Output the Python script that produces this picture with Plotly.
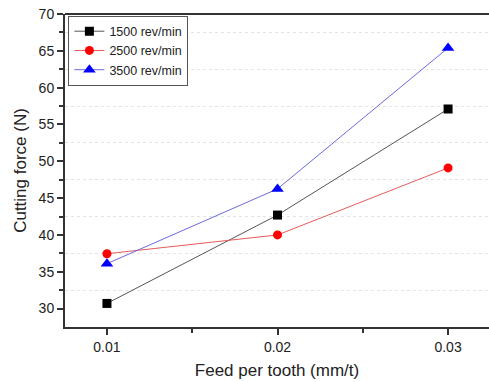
import plotly.graph_objects as go

feed = [0.01, 0.02, 0.03]
f1500 = [30.7, 42.7, 57.1]
f2500 = [37.45, 40.0, 49.1]
f3500 = [36.1, 46.25, 65.4]
names = ["1500 rev/min", "2500 rev/min", "3500 rev/min"]
line_colors = ["#555555", "#e85a5a", "#6a6ae0"]
marker_colors = ["#000000", "#ff0000", "#0000ff"]
symbols = ["square", "circle", "triangle-up"]

fig = go.Figure()
for ys, n, lc, mc, s in zip([f1500, f2500, f3500], names, line_colors, marker_colors, symbols):
    fig.add_trace(go.Scatter(x=feed, y=ys, name=n, mode="lines+markers",
                             line=dict(color=lc, width=1),
                             marker=dict(symbol=s, color=mc, size=9 if s != "triangle-up" else 11)))

# top frame line
fig.add_shape(type="line", xref="paper", yref="paper", x0=0, x1=1.02, y0=1, y1=1,
              line=dict(color="#333", width=2), layer="above")

fig.update_layout(
    width=489, height=382,
    margin=dict(l=65, r=0, t=14, b=55),
    template="none",
    plot_bgcolor="white", paper_bgcolor="white",
    font=dict(family="Liberation Sans, Arial", color="#222222", size=14),
    legend=dict(x=0.008, y=0.995, xanchor="left", yanchor="top",
                bordercolor="#555555", borderwidth=1, bgcolor="white",
                font=dict(size=12.5), tracegroupgap=0, itemwidth=30),
    showlegend=True,
)
fig.update_xaxes(
    range=[0.00754, 0.0324], tickvals=[0.01, 0.02, 0.03], ticktext=["0.01", "0.02", "0.03"],
    ticks="outside", ticklen=6, tickwidth=1.5, tickcolor="#333",
    minor=dict(tickvals=[0.015, 0.025], ticks="outside", ticklen=4, tickcolor="#333", showgrid=False),
    showline=True, linecolor="#333", linewidth=2, mirror=False,
    showgrid=False, zeroline=False, automargin=False,
    title=dict(text="Feed per tooth (mm/t)", font=dict(size=17), standoff=10),
)
fig.update_yaxes(
    range=[27.5, 70], tickvals=[30, 35, 40, 45, 50, 55, 60, 65, 70],
    ticks="outside", ticklen=6, tickwidth=1.5, tickcolor="#333",
    minor=dict(tickvals=[32.5, 37.5, 42.5, 47.5, 52.5, 57.5, 62.5, 67.5], ticks="outside",
               ticklen=4, tickcolor="#333", showgrid=True, gridcolor="#e4e4e4",
               griddash="dot", gridwidth=1),
    showline=True, linecolor="#333", linewidth=2, mirror=False,
    showgrid=False, zeroline=False, automargin=False,
    title=dict(text="Cutting force (N)", font=dict(size=17), standoff=8),
)
fig.write_html("out.html")
